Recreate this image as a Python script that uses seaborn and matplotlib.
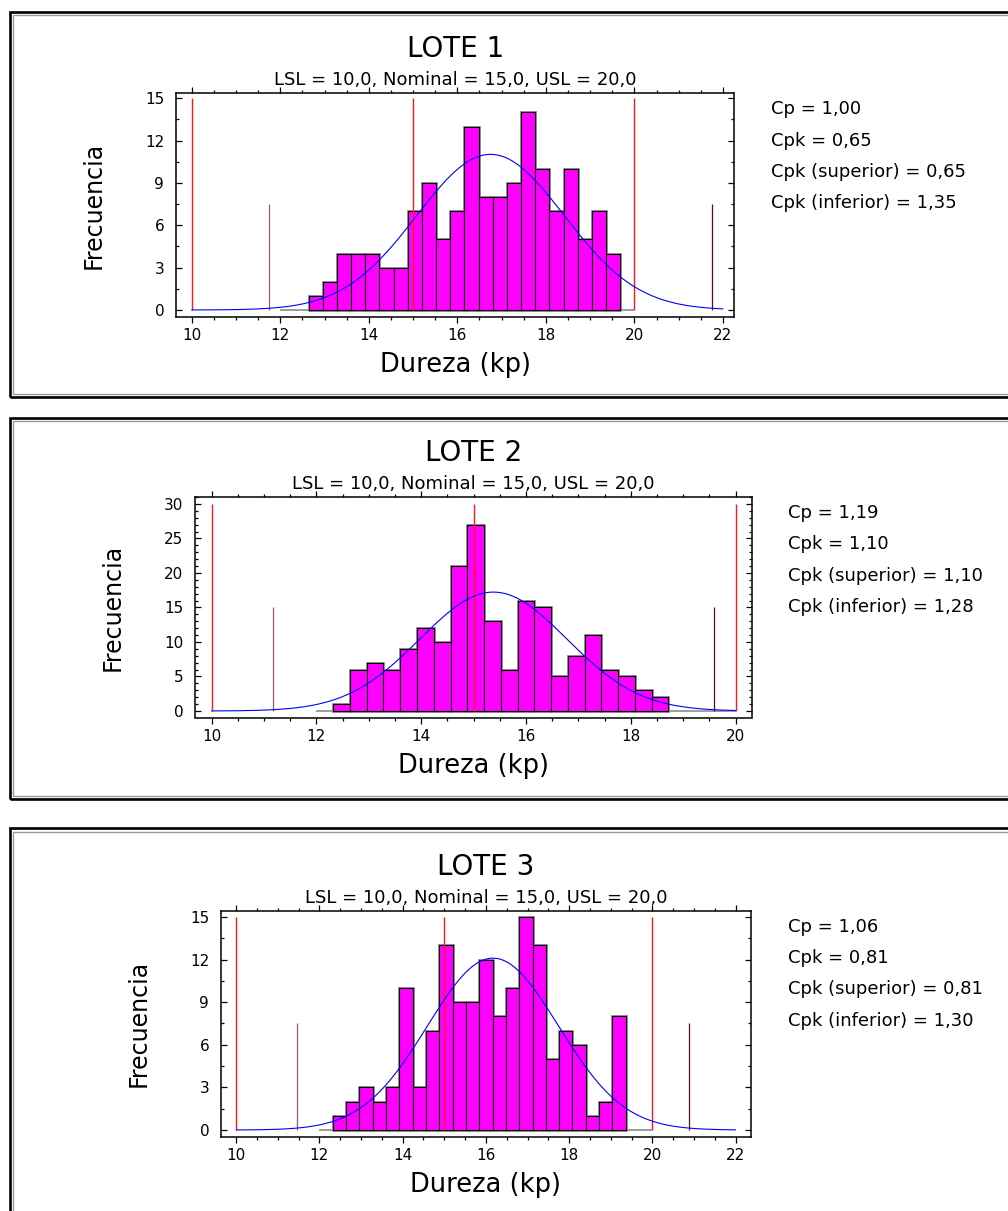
import numpy as np
import pandas as pd
import matplotlib
matplotlib.use("Agg")
import matplotlib.pyplot as plt
import seaborn as sns
from matplotlib.patches import Rectangle
from matplotlib.ticker import MultipleLocator

# ---------------- data ----------------
LSL, NOMINAL, USL = 10.0, 15.0, 20.0
BIN_START = 12.0
BIN_WIDTH = 0.32

lote1_counts = [0, 0, 1, 2, 4, 4, 4, 3, 3, 7, 9, 5, 7, 13, 8, 8, 9, 14, 10, 7, 10, 5, 7, 4, 0]
lote2_counts = [0, 1, 6, 7, 6, 9, 12, 10, 21, 27, 13, 6, 16, 15, 5, 8, 11, 6, 5, 3, 2, 0, 0, 0, 0]
lote3_counts = [0, 1, 2, 3, 2, 3, 10, 3, 7, 13, 9, 9, 12, 8, 10, 15, 13, 5, 7, 6, 1, 2, 8, 0, 0]

lote1_mean, lote1_sigma = 16.75, 1.667
lote2_mean, lote2_sigma = 15.378, 1.4006
lote3_mean, lote3_sigma = 16.17, 1.572

stat_labels = ["Cp", "Cpk", "Cpk (superior)", "Cpk (inferior)"]
lote1_stats = ["1,00", "0,65", "0,65", "1,35"]
lote2_stats = ["1,19", "1,10", "1,10", "1,28"]
lote3_stats = ["1,06", "0,81", "0,81", "1,30"]

titles = ["LOTE 1", "LOTE 2", "LOTE 3"]
subtitle = "LSL = 10,0, Nominal = 15,0, USL = 20,0"
xlabel = "Dureza (kp)"
ylabel = "Frecuencia"

# ---------------- style / layout ----------------
sns.set_theme(style="ticks")
plt.rcParams['font.family'] = ['DejaVu Sans']
plt.rcParams['text.color'] = 'black'
plt.rcParams['axes.labelcolor'] = 'black'
plt.rcParams['xtick.color'] = 'black'
plt.rcParams['ytick.color'] = 'black'

W, H = 1008, 1211
fig = plt.figure(figsize=(W / 100, H / 100), dpi=100)
fig.patch.set_facecolor("white")


def fx(x):
    return x / W


def fy(y):
    return 1 - y / H


layout = [
    dict(box=(176, 93.3, 734.4, 316.7), xlim=(9.645, 22.259), xmax=22, ylim=(-0.475, 15.354),
         ytop=15, ystep=3, yminor=1.5, curve_end=22, stats_x=771, frame=(12, 397)),
    dict(box=(195.4, 497, 751.5, 717.5), xlim=(9.691, 20.305), xmax=20, ylim=(-0.94, 31.0),
         ytop=30, ystep=5, yminor=1, curve_end=20, stats_x=788, frame=(418, 799)),
    dict(box=(221, 910.7, 751, 1136.7), xlim=(9.635, 22.37), xmax=22, ylim=(-0.47, 15.44),
         ytop=15, ystep=3, yminor=1.5, curve_end=22, stats_x=788, frame=(828.5, 1240)),
]

series = [
    (lote1_counts, lote1_mean, lote1_sigma, lote1_stats),
    (lote2_counts, lote2_mean, lote2_sigma, lote2_stats),
    (lote3_counts, lote3_mean, lote3_sigma, lote3_stats),
]

# panel frames (double line)
for lay in layout:
    top, bot = lay["frame"]
    left, right = 9.5, 1040
    fig.patches.append(Rectangle((fx(left), fy(bot)), fx(right) - fx(left), fy(top) - fy(bot),
                                 transform=fig.transFigure, fill=False, edgecolor="black", lw=1.9))
    ins = 3.0
    fig.patches.append(Rectangle((fx(left + ins), fy(bot - ins)), fx(right) - fx(left + ins),
                                 fy(top + ins) - fy(bot - ins),
                                 transform=fig.transFigure, fill=False, edgecolor="#9a9a9a", lw=1.0))

for title, lay, (counts, mu, sigma, stats) in zip(titles, layout, series):
    l, t, r, b = lay["box"]
    ax = fig.add_axes([fx(l), fy(b), fx(r) - fx(l), fy(t) - fy(b)])
    ax.set_facecolor("white")

    counts = np.asarray(counts, dtype=float)
    edges = BIN_START + BIN_WIDTH * np.arange(len(counts) + 1)
    centers = edges[:-1] + BIN_WIDTH / 2
    n_total = counts.sum()
    df = pd.DataFrame({"dureza": centers, "freq": counts})

    # baseline of empty bins
    ax.hlines(0, edges[0], edges[-1], colors="#8c8c8c", lw=1.2, zorder=1)
    # soft grey shadow outline, then the magenta bars
    sns.histplot(data=df, x="dureza", weights="freq", bins=edges.tolist(), ax=ax,
                 color="#ff00ff", alpha=1, edgecolor="#8a8a8a", linewidth=2.0, zorder=2)
    sns.histplot(data=df, x="dureza", weights="freq", bins=edges.tolist(), ax=ax,
                 color="#ff00ff", alpha=1, edgecolor="black", linewidth=0.8, zorder=2.1)
    for p in ax.patches:
        if p.get_height() == 0:
            p.set_visible(False)

    xs = np.linspace(LSL, lay["curve_end"], 600)
    ys = n_total * BIN_WIDTH * np.exp(-0.5 * ((xs - mu) / sigma) ** 2) / (sigma * np.sqrt(2 * np.pi))
    sns.lineplot(x=xs, y=ys, ax=ax, color="#0000ff", lw=0.8, zorder=4)

    ytop = lay["ytop"]
    ax.vlines([LSL, NOMINAL, USL], 0, ytop, colors="#ff1a1a", lw=1.0, zorder=3)
    ax.vlines([mu - 3 * sigma], 0, ytop / 2, colors="#a8507c", lw=0.9, zorder=3)
    ax.vlines([mu + 3 * sigma], 0, ytop / 2, colors="#5c0a2c", lw=0.9, zorder=3)

    ax.set_xlim(*lay["xlim"])
    ax.set_ylim(*lay["ylim"])
    ax.set_xticks(np.arange(10, lay["xmax"] + 1, 2))
    ax.xaxis.set_minor_locator(MultipleLocator(0.5))
    ax.set_yticks(np.arange(0, ytop + 1, lay["ystep"]))
    ax.yaxis.set_minor_locator(MultipleLocator(lay["yminor"]))
    ax.set_xlabel("")
    ax.set_ylabel("")
    for s in ax.spines.values():
        s.set_visible(True)
        s.set_linewidth(1.1)
        s.set_color("black")
    ax.tick_params(axis="x", which="both", direction="out", top=True, bottom=True,
                   labelsize=11, pad=4.3, colors="black", width=0.9)
    ax.tick_params(axis="y", which="both", direction="in", left=True, right=True,
                   labelsize=11, pad=8.5, colors="black", width=0.9)
    ax.tick_params(which="major", length=4)
    ax.tick_params(which="minor", length=2.5)

    cx = (l + r) / 2
    fig.text(fx(cx), fy(t - 44), title, ha="center", va="center", fontsize=20, color="black")
    fig.text(fx(cx), fy(t - 13), subtitle, ha="center", va="center", fontsize=13, color="black")
    fig.text(fx(l - 82.5), fy((t + b) / 2), ylabel, ha="center", va="center",
             rotation=90, fontsize=17, color="black")
    fig.text(fx(cx), fy(b + 48.5), xlabel, ha="center", va="center", fontsize=18.5, color="black")

    for i, (lab, val) in enumerate(zip(stat_labels, stats)):
        fig.text(fx(lay["stats_x"]), fy(t + 16 + 31.3 * i), f"{lab} = {val}",
                 ha="left", va="center", fontsize=13, color="black")

fig.savefig("out.png", dpi=100, facecolor="white")
